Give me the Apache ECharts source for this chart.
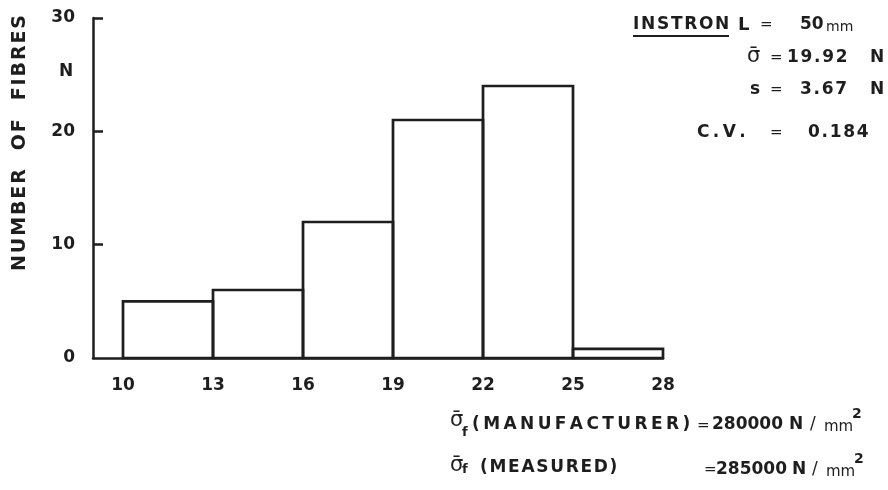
<!DOCTYPE html>
<html>
<head>
<meta charset="utf-8">
<script src="https://cdn.jsdelivr.net/npm/echarts@6/dist/echarts.min.js"></script>
<style>
  html, body { margin: 0; padding: 0; background: #fff; }
  #chart { width: 888px; height: 490px; }
</style>
</head>
<body>
<div id="chart"></div>
<script>
// histogram bins (sigma, N) and counts
var binStart = [10, 13, 16, 19, 22, 25];
var binEnd = [13, 16, 19, 22, 25, 28];
var fibreCounts = [5, 6, 12, 21, 24, 0.8];
var xTickValues = [10, 13, 16, 19, 22, 25, 28];
var yTickValues = [10, 20, 30];

var ink = '#1e1e1e';
var fontFam = '"DejaVu Sans", sans-serif';

var myChart = echarts.init(document.getElementById('chart'));

var barData = [];
for (var i = 0; i < fibreCounts.length; i++) {
    barData.push([binStart[i], binEnd[i], fibreCounts[i]]);
}

// the typewriter lettering is wider than DejaVu, pad letters a bit
function spaced(s, sep) {
    return s.split('').join(sep || '\u200A');
}

function txt(x, y, s, size, extra) {
    var st = {
        text: s, x: x, y: y, fill: ink,
        font: (extra && extra.weight || 'bold') + ' ' + size + 'px ' + fontFam,
        textAlign: extra && extra.align || 'left',
        textVerticalAlign: 'middle'
    };
    return {type: 'text', silent: true, style: st};
}

var option = {
    backgroundColor: '#fff',
    animation: false,
    grid: {left: 93, top: 18, right: 225, bottom: 132},
    xAxis: {
        type: 'value', min: 9, max: 28,
        axisLine: {show: true, lineStyle: {color: ink, width: 2.5}},
        axisTick: {show: false},
        splitLine: {show: false},
        axisLabel: {
            customValues: xTickValues, margin: 19,
            color: ink, fontSize: 17, fontWeight: 'bold', fontFamily: fontFam
        }
    },
    yAxis: {
        type: 'value', min: 0, max: 30, interval: 10,
        axisLine: {show: true, lineStyle: {color: ink, width: 2.5}},
        axisTick: {show: true, inside: true, length: 10, customValues: yTickValues,
            lineStyle: {color: ink, width: 2.5}},
        splitLine: {show: false},
        axisLabel: {
            margin: 18, color: ink, fontSize: 17, fontWeight: 'bold', fontFamily: fontFam
        }
    },
    series: [{
        type: 'custom',
        data: barData,
        encode: {x: [0, 1], y: 2},
        renderItem: function (params, api) {
            var p1 = api.coord([api.value(0), api.value(2)]);
            var p2 = api.coord([api.value(1), 0]);
            return {
                type: 'rect',
                shape: {x: p1[0], y: p1[1], width: p2[0] - p1[0], height: p2[1] - p1[1]},
                style: {fill: 'none', stroke: ink, lineWidth: 2.7}
            };
        }
    }],
    graphic: [
        // y axis title
        {type: 'text', silent: true, x: 20, y: 143, rotation: Math.PI / 2,
            style: {text: spaced('NUMBER  OF  FIBRES'), fill: ink, font: 'bold 19px ' + fontFam,
                textAlign: 'center', textVerticalAlign: 'middle'}},
        txt(66, 72, 'N', 17, {align: 'center'}),

        // INSTRON block
        txt(633, 25, spaced('INSTRON'), 17),
        {type: 'line', silent: true, shape: {x1: 633, y1: 36, x2: 729, y2: 36},
            style: {stroke: ink, lineWidth: 2}},
        txt(738, 25, 'L', 18),
        txt(760, 25, '=', 15, {weight: 'normal'}),
        txt(800, 25, '50', 17),
        txt(826, 27, 'mm', 14, {weight: 'normal'}),

        txt(747, 57, 'σ\u0304', 21, {weight: 'normal'}),
        txt(770, 58, '=', 15, {weight: 'normal'}),
        txt(787, 58, spaced('19.92'), 17),
        txt(870, 58, 'N', 17),

        txt(750, 90, 's', 17),
        txt(770, 90, '=', 15, {weight: 'normal'}),
        txt(800, 90, spaced('3.67'), 17),
        txt(870, 90, 'N', 17),

        txt(697, 133, spaced('C.V.', '\u2009'), 17),
        txt(770, 133, '=', 15, {weight: 'normal'}),
        txt(808, 133, spaced('0.184'), 17),

        // strength lines
        txt(450, 421, 'σ\u0304', 21, {weight: 'normal'}),
        txt(462, 433, 'f', 13),
        txt(472, 425, spaced('(MANUFACTURER)', '\u2009'), 17),
        txt(697, 426, '=', 15, {weight: 'normal'}),
        txt(712, 425, '280000', 17),
        txt(789, 425, 'N', 17),
        txt(810, 425, '/', 17, {weight: 'normal'}),
        txt(824, 427, 'mm', 15, {weight: 'normal'}),
        txt(852, 414, '2', 14),

        txt(450, 466, 'σ\u0304', 21, {weight: 'normal'}),
        txt(462, 470, 'f', 13),
        txt(480, 468, spaced('(MEASURED)'), 17),
        txt(704, 470, '=', 15, {weight: 'normal'}),
        txt(716, 470, '285000', 17),
        txt(792, 470, 'N', 17),
        txt(812, 470, '/', 17, {weight: 'normal'}),
        txt(826, 472, 'mm', 15, {weight: 'normal'}),
        txt(854, 459, '2', 14)
    ]
};

myChart.setOption(option);
</script>
</body>
</html>
